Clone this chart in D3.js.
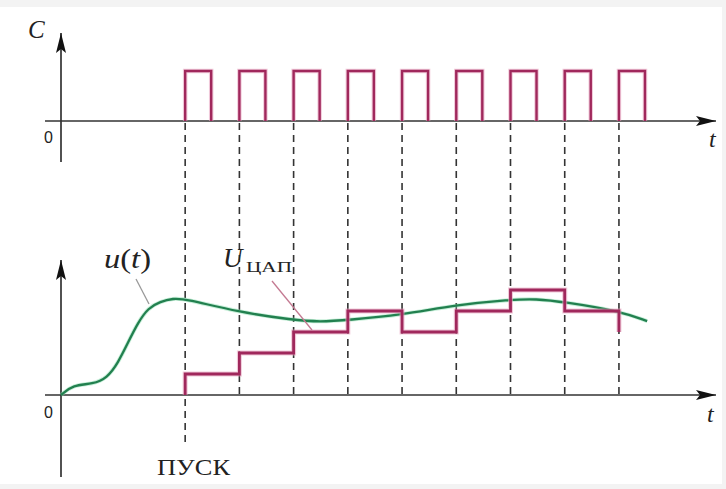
<!DOCTYPE html>
<html>
<head>
<meta charset="utf-8">
<script src="https://cdn.jsdelivr.net/npm/d3@7"></script>
<style>
  body { margin: 0; background: #f3f3f3; }
  svg { display: block; }
  .serif { font-family: "Liberation Serif", "DejaVu Serif", serif; fill: #222; }
</style>
</head>
<body>
<svg id="chart"></svg>
<script>
// sample instants (clock periods, 0 = ПУСК) and clock pulse width
var sampleTimes = [0, 1, 2, 3, 4, 5, 6, 7, 8];
var pulseWidth = 0.48;

// DAC output codes after each sample
var dacCodes = [1, 2, 3, 4, 3, 4, 5, 4, 3];

// analog signal u(t)
var uTimes  = [-2.29, -2.07, -1.70, -1.44, -1.24, -1.05, -0.87, -0.68, -0.46, -0.22, 0,
               0.98, 1.99, 2.49, 3.0, 3.98, 5.0, 5.99, 6.47, 6.99, 8.0, 8.52];
var uValues = [0, 0.48, 0.52, 0.81, 1.52, 2.52, 3.45, 4.15, 4.45, 4.6, 4.58,
               3.95, 3.57, 3.48, 3.57, 3.81, 4.29, 4.54, 4.58, 4.43, 4.0, 3.52];

var width = 726,
    height = 489;

var svg = d3.select("#chart")
    .attr("width", width)
    .attr("height", height);

svg.append("rect")
    .attr("x", 0).attr("y", 7)
    .attr("width", 722).attr("height", 477)
    .attr("fill", "#fff");

var x = d3.scaleLinear()
    .domain([-2.29, 9.79])
    .range([61, 716]);

var yTop = d3.scaleLinear()
    .domain([0, 1])
    .range([121, 71]);

var yBot = d3.scaleLinear()
    .domain([0, 5])
    .range([395, 290]);

var axisColor = "#333",
    pulseColor = "#a0285c",
    greenColor = "#22804f";

// arrow heads
var defs = svg.append("defs");
defs.append("marker")
    .attr("id", "arrow")
    .attr("viewBox", "0 0 20 10")
    .attr("refX", 20).attr("refY", 5)
    .attr("markerWidth", 20).attr("markerHeight", 10)
    .attr("markerUnits", "userSpaceOnUse")
    .attr("orient", "auto")
    .append("path")
    .attr("d", "M0,0L20,5L0,10L4,5Z")
    .attr("fill", "#111");

function drawAxes(y, topY, bottomY) {
    // horizontal axis
    svg.append("line")
        .attr("x1", x.range()[0] - 16).attr("x2", x.range()[1])
        .attr("y1", y(0)).attr("y2", y(0))
        .attr("stroke", axisColor).attr("stroke-width", 1.7)
        .attr("marker-end", "url(#arrow)");
    // vertical axis
    svg.append("line")
        .attr("x1", x.range()[0]).attr("x2", x.range()[0])
        .attr("y1", bottomY).attr("y2", topY)
        .attr("stroke", axisColor).attr("stroke-width", 1.7)
        .attr("marker-end", "url(#arrow)");
}

drawAxes(yTop, 33, 162);
drawAxes(yBot, 260, 477);

// dashed sample lines
svg.append("g")
    .selectAll("line")
    .data(sampleTimes)
    .enter().append("line")
    .attr("x1", function (d) { return x(d); })
    .attr("x2", function (d) { return x(d); })
    .attr("y1", yTop(0) + 2)
    .attr("y2", function (d) { return d == 0 ? 443 : yBot(0); })
    .attr("stroke", "#333")
    .attr("stroke-width", 1.6)
    .attr("stroke-dasharray", "7,5");

// clock pulses
var pulsePath = sampleTimes.map(function (t) {
    return "M" + x(t) + "," + yTop(0) + "V" + yTop(1) + "H" + x(t + pulseWidth) + "V" + yTop(0);
}).join("");

svg.append("path")
    .attr("d", pulsePath)
    .attr("fill", "none")
    .attr("stroke", "#e8a6c2")
    .attr("stroke-width", 4.5)
    .attr("opacity", 0.6);
svg.append("path")
    .attr("d", pulsePath)
    .attr("fill", "none")
    .attr("stroke", pulseColor)
    .attr("stroke-width", 2.4);

// u(t) curve
var uLine = d3.line()
    .x(function (d) { return x(d[0]); })
    .y(function (d) { return yBot(d[1]); })
    .curve(d3.curveBasis);

var uData = uTimes.map(function (t, i) { return [t, uValues[i]]; });

svg.append("path")
    .attr("d", uLine(uData))
    .attr("fill", "none")
    .attr("stroke", "#8fe0b4")
    .attr("stroke-width", 4)
    .attr("opacity", 0.5);
svg.append("path")
    .attr("d", uLine(uData))
    .attr("fill", "none")
    .attr("stroke", greenColor)
    .attr("stroke-width", 2.3);

// DAC staircase
var stairLine = d3.line()
    .x(function (d) { return x(d[0]); })
    .y(function (d) { return yBot(d[1]); })
    .curve(d3.curveStepAfter);

var stairData = [[0, 0]].concat(sampleTimes.map(function (t, i) { return [t, dacCodes[i]]; }));

svg.append("path")
    .attr("d", stairLine(stairData))
    .attr("fill", "none")
    .attr("stroke", "#e8a6c2")
    .attr("stroke-width", 5)
    .attr("opacity", 0.6);
svg.append("path")
    .attr("d", stairLine(stairData))
    .attr("fill", "none")
    .attr("stroke", pulseColor)
    .attr("stroke-width", 2.8);

// pointer lines for labels
svg.append("line")
    .attr("x1", 136).attr("y1", 279).attr("x2", 149).attr("y2", 304)
    .attr("stroke", "#999").attr("stroke-width", 1.3);
svg.append("line")
    .attr("x1", 272).attr("y1", 281).attr("x2", 312).attr("y2", 330)
    .attr("stroke", "#c47a92").attr("stroke-width", 1.3);

// texts
function label(txt, px, py, size, italic, family) {
    return svg.append("text")
        .attr("class", "serif")
        .attr("x", px).attr("y", py)
        .style("font-size", size + "px")
        .style("font-style", italic ? "italic" : "normal")
        .style("font-family", family || null)
        .text(txt);
}

label("C", 28, 38, 25, true);
label("t", 709, 147, 24, true);
label("t", 707, 422, 24, true);
label("0", 44, 143, 16, false, "'Liberation Sans', sans-serif");
label("0", 44, 418, 16, false, "'Liberation Sans', sans-serif");
label("ПУСК", 157, 475, 24, false)
    .attr("textLength", 73).attr("lengthAdjust", "spacingAndGlyphs");

var ut = svg.append("text")
    .attr("class", "serif")
    .attr("x", 104).attr("y", 268)
    .style("font-size", "28px")
    .attr("textLength", 47)
    .attr("lengthAdjust", "spacingAndGlyphs");
ut.append("tspan").style("font-style", "italic").text("u");
ut.append("tspan").text("(");
ut.append("tspan").style("font-style", "italic").text("t");
ut.append("tspan").text(")");

label("U", 223, 267, 27, true);
label("ЦАП", 246, 272, 15, false)
    .attr("textLength", 46).attr("lengthAdjust", "spacingAndGlyphs");
</script>
</body>
</html>
